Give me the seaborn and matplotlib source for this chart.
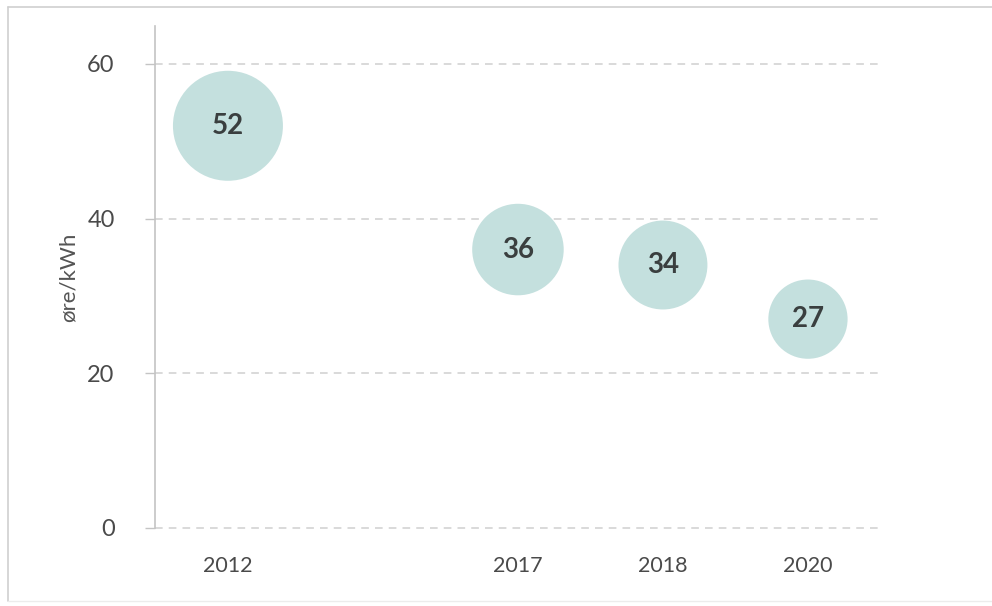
import matplotlib
matplotlib.use("Agg")
import matplotlib.pyplot as plt
from matplotlib.lines import Line2D
import seaborn as sns
import pandas as pd

# Data
years = ["2012", "2017", "2018", "2020"]
x_pos = [0, 2, 3, 4]
cost = [52, 36, 34, 27]

df = pd.DataFrame({"x": x_pos, "cost": cost, "year": years})

sns.set_theme(style="white")
plt.rcParams["font.family"] = ["Lato", "DejaVu Sans"]

fig = plt.figure(figsize=(9.92, 6.06), dpi=100)
ax = fig.add_axes([155 / 992, 78 / 606, (878 - 155) / 992, (528 - 26) / 606])

# bubble area proportional to the value
k = 120.6
sns.scatterplot(data=df, x="x", y="cost", size="cost",
                sizes=(k * min(cost), k * max(cost)), size_norm=(min(cost), max(cost)),
                color="#c4e0de", edgecolor="none", alpha=1, legend=False,
                ax=ax, zorder=3)

for xp, v in zip(x_pos, cost):
    ax.text(xp, v, str(v), ha="center", va="center", fontsize=20,
            fontweight="bold", color="#3a3f3f", zorder=4)

ax.set_xlim(-0.503, 4.483)
ax.set_ylim(0, 64.9)
ax.set_yticks([0, 20, 40, 60])
ax.set_xticks(x_pos)
ax.set_xticklabels(years)

ax.grid(axis="y", color="#d0d0d0", linestyle=(0, (5, 4)), linewidth=1.1, zorder=0)
ax.grid(axis="x", visible=False)
ax.set_axisbelow(True)
for gl in ax.get_ygridlines():
    gl.set_clip_on(False)

for side in ["top", "right", "bottom"]:
    ax.spines[side].set_visible(False)
ax.spines["left"].set_color("#c4c4c4")
ax.spines["left"].set_linewidth(1.2)

ax.tick_params(axis="y", which="both", left=True, length=7, width=1,
               color="#c4c4c4", pad=22, labelsize=17, labelcolor="#4a4a4a")
ax.tick_params(axis="x", which="both", bottom=False, pad=14,
               labelsize=15.5, labelcolor="#4a4a4a")

ax.set_xlabel("")
ax.set_ylabel("øre/kWh", fontsize=16, color="#555555", labelpad=6)

# thin frame on the left, top and bottom of the figure
frame_kw = dict(color="#cfcfcf", linewidth=1.2, transform=fig.transFigure)
fig.add_artist(Line2D([8 / 992, 1], [1 - 7 / 606, 1 - 7 / 606], **frame_kw))
fig.add_artist(Line2D([8 / 992, 8 / 992], [1 - 7 / 606, 1 - 601 / 606], **frame_kw))
fig.add_artist(Line2D([8 / 992, 1], [1 - 601 / 606, 1 - 601 / 606], color="#ececec",
                      linewidth=1.0, transform=fig.transFigure))

fig.savefig("out.png", dpi=100)
